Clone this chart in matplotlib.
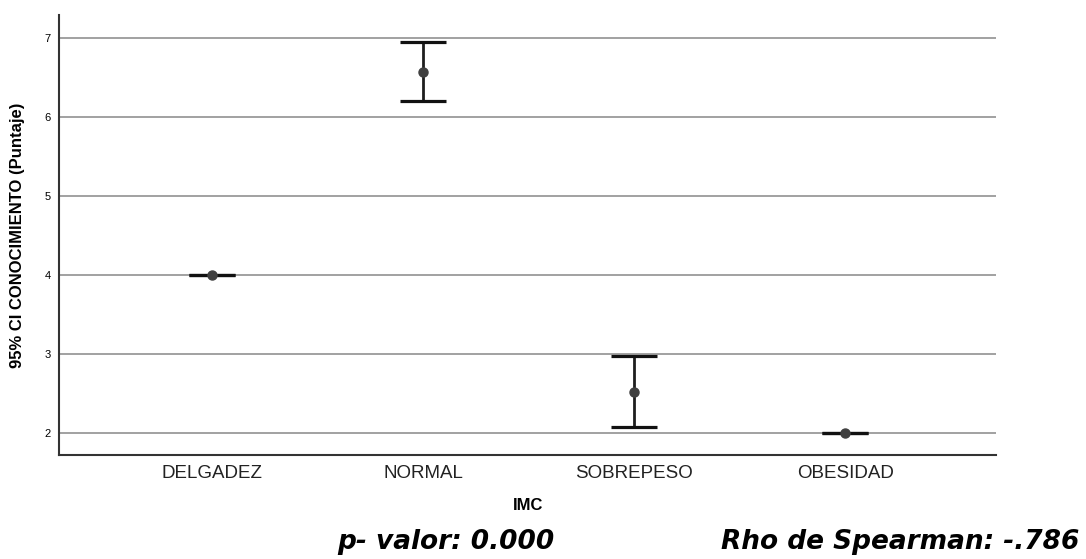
import numpy as np
import matplotlib.pyplot as plt

# data
categorias = ['DELGADEZ', 'NORMAL', 'SOBREPESO', 'OBESIDAD']
media = [4.0, 6.57, 2.52, 2.0]
ci_bajo = [4.0, 6.20, 2.07, 2.0]
ci_alto = [4.0, 6.95, 2.97, 2.0]
y_ticks = [2, 3, 4, 5, 6, 7]

fig = plt.figure(figsize=(10.86, 5.59), dpi=100)
ax = fig.add_axes([0.0543, 0.186, 0.8630, 0.787])

x = np.arange(len(categorias))
media = np.array(media)
err = np.vstack([media - np.array(ci_bajo), np.array(ci_alto) - media])

ax.grid(True, axis='y', color='#9a9a9a', linewidth=1.3)
ax.set_axisbelow(True)

# caps drawn as short lines so zero-width intervals still show a bar
ax.errorbar(x, media, yerr=err, fmt='none', ecolor='#1e1e1e', elinewidth=2.0, zorder=3)
ax.hlines(ci_bajo, x - 0.108, x + 0.108, color='#111111', linewidth=2.3, zorder=3)
ax.hlines(ci_alto, x - 0.108, x + 0.108, color='#111111', linewidth=2.3, zorder=3)
ax.plot(x, media, 'o', color='#404040', markersize=6.5, zorder=4)

ax.set_xlim(-0.725, 3.716)
ax.set_ylim(1.72, 7.29)
ax.set_xticks(x)
ax.set_xticklabels(categorias, fontsize=13.5, family='Liberation Sans', color='#222222')
ax.set_yticks(y_ticks)
ax.set_yticklabels([str(v) for v in y_ticks], fontsize=8, family='Liberation Sans')
ax.tick_params(axis='x', length=0, pad=7)
ax.tick_params(axis='y', length=0, pad=6)

ax.set_xlabel('IMC', fontsize=12, fontweight='bold', family='Liberation Sans', labelpad=12)
ax.set_ylabel('95% CI CONOCIMIENTO (Puntaje)', fontsize=12, fontweight='bold',
              family=['Liberation Sans Narrow', 'Liberation Sans'], labelpad=14)

for s in ['top', 'right']:
    ax.spines[s].set_visible(False)
for s in ['left', 'bottom']:
    ax.spines[s].set_color('#333333')
    ax.spines[s].set_linewidth(1.5)

fig.text(0.311, 0.018, 'p- valor: 0.000', fontsize=19, fontweight='bold',
         style='italic', family='DejaVu Sans')
fig.text(0.994, 0.018, 'Rho de Spearman: -.786', fontsize=19, fontweight='bold',
         style='italic', family='DejaVu Sans', ha='right')

fig.savefig('out.png', dpi=100)
